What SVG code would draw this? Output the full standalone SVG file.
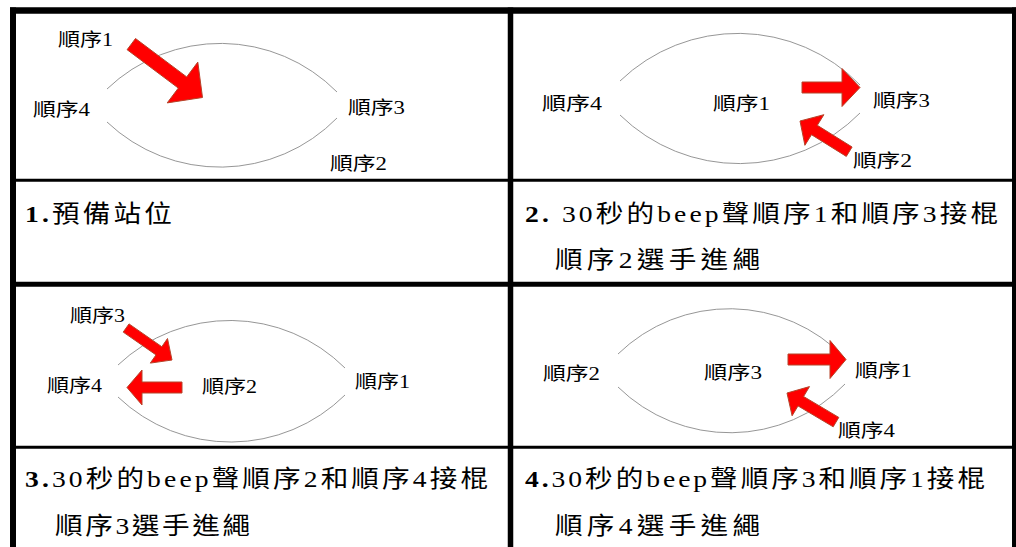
<svg xmlns="http://www.w3.org/2000/svg" width="1016" height="547" viewBox="0 0 1016 547">
<style>
.lbl{font-family:"Liberation Serif","Noto Sans CJK TC",serif;font-size:18px;fill:#000}
.cap{font-family:"Liberation Serif","Noto Sans CJK TC",serif;font-size:24px;fill:#000}
.b{font-weight:bold}
.arc{fill:none;stroke:#8a8a8a;stroke-width:0.9}
.arr{fill:#ff0000;stroke:#b5442a;stroke-width:1;stroke-linejoin:miter}
.grid{stroke:#000;fill:none}
</style>
<rect width="1016" height="547" fill="#fff"/>
<g id="grid">
<line class="grid" x1="10" y1="10.5" x2="1016" y2="10.5" stroke-width="6.5"/>
<line class="grid" x1="13" y1="7.5" x2="13" y2="547" stroke-width="6"/>
<line class="grid" x1="1015" y1="7.5" x2="1015" y2="547" stroke-width="6"/>
<line class="grid" x1="510.5" y1="7.5" x2="510.5" y2="547" stroke-width="5.5"/>
<line class="grid" x1="10" y1="180.3" x2="1016" y2="180.3" stroke-width="3"/>
<line class="grid" x1="10" y1="284.2" x2="1016" y2="284.2" stroke-width="5"/>
<line class="grid" x1="10" y1="447.2" x2="1016" y2="447.2" stroke-width="3"/>
</g>
<g id="panel1">
<path class="arc" d="M107,89 A164,164 0 0 1 337,92"/>
<path class="arc" d="M107,122 A164,164 0 0 0 337,118"/>
<text class="lbl" x="58" y="46" textLength="55" lengthAdjust="spacingAndGlyphs">順序1</text>
<text class="lbl" x="33" y="116" textLength="57" lengthAdjust="spacingAndGlyphs">順序4</text>
<text class="lbl" x="348" y="114" textLength="57" lengthAdjust="spacingAndGlyphs">順序3</text>
<text class="lbl" x="330" y="170" textLength="57" lengthAdjust="spacingAndGlyphs">順序2</text>
<text class="cap" transform="translate(25,222) scale(1.15,1)" textLength="127.8" lengthAdjust="spacing"><tspan class="b">1.</tspan>預備站位</text>
</g>
<g id="panel2">
<path class="arc" d="M620,81 A170,170 0 0 1 860,85"/>
<path class="arc" d="M620,115 A170,170 0 0 0 860,113"/>
<text class="lbl" x="542" y="110" textLength="60" lengthAdjust="spacingAndGlyphs">順序4</text>
<text class="lbl" x="713" y="110" textLength="57" lengthAdjust="spacingAndGlyphs">順序1</text>
<text class="lbl" x="873" y="107" textLength="57" lengthAdjust="spacingAndGlyphs">順序3</text>
<text class="lbl" x="853" y="167" textLength="59" lengthAdjust="spacingAndGlyphs">順序2</text>
<text class="cap" transform="translate(525,222) scale(1.15,1)" textLength="411.3" lengthAdjust="spacing"><tspan class="b">2.</tspan> 30秒的beep聲順序1和順序3接棍</text>
<text class="cap" transform="translate(555,268) scale(1.15,1)" textLength="178.3" lengthAdjust="spacing">順序2選手進繩</text>
</g>
<g id="panel3">
<path class="arc" d="M118,365 A163,163 0 0 1 345,368"/>
<path class="arc" d="M118,397 A163,163 0 0 0 345,395"/>
<text class="lbl" x="70" y="322" textLength="55" lengthAdjust="spacingAndGlyphs">順序3</text>
<text class="lbl" x="47" y="392" textLength="55" lengthAdjust="spacingAndGlyphs">順序4</text>
<text class="lbl" x="202" y="393" textLength="55" lengthAdjust="spacingAndGlyphs">順序2</text>
<text class="lbl" x="355" y="388" textLength="55" lengthAdjust="spacingAndGlyphs">順序1</text>
<text class="cap" transform="translate(25,487) scale(1.15,1)" textLength="402.6" lengthAdjust="spacing"><tspan class="b">3.</tspan>30秒的beep聲順序2和順序4接棍</text>
<text class="cap" transform="translate(55,534) scale(1.15,1)" textLength="169.6" lengthAdjust="spacing">順序3選手進繩</text>
</g>
<g id="panel4">
<path class="arc" d="M618,354 A160,160 0 0 1 845,358"/>
<path class="arc" d="M618,387 A160,160 0 0 0 845,384"/>
<text class="lbl" x="543" y="380" textLength="57" lengthAdjust="spacingAndGlyphs">順序2</text>
<text class="lbl" x="704" y="379" textLength="58" lengthAdjust="spacingAndGlyphs">順序3</text>
<text class="lbl" x="855" y="377" textLength="57" lengthAdjust="spacingAndGlyphs">順序1</text>
<text class="lbl" x="838" y="437" textLength="57" lengthAdjust="spacingAndGlyphs">順序4</text>
<text class="cap" transform="translate(525,487) scale(1.15,1)" textLength="400" lengthAdjust="spacing"><tspan class="b">4.</tspan>30秒的beep聲順序3和順序1接棍</text>
<text class="cap" transform="translate(555,534) scale(1.15,1)" textLength="178.3" lengthAdjust="spacing">順序4選手進繩</text>
</g>
<g id="connectors">
<polygon class="arr" points="135.5,38.5 186.7,76.9 197.8,62.1 202.5,97.5 167.2,102.9 178.3,88.1 127.1,49.7"/>
<polygon class="arr" points="802,82 842,82 842,68.5 860,87.5 842,106.5 842,93 802,93"/>
<polygon class="arr" points="800,121 823.9,114.7 817.3,125.3 852.1,147 846.3,156.4 811.5,134.7 804.9,145.3"/>
<polygon class="arr" points="129,323.9 161.8,346.7 167.5,338.5 172,360 150.3,363.1 156,354.9 123.2,332.1"/>
<polygon class="arr" points="182,382 142,382 142,370 127,387.5 142,405 142,393 182,393"/>
<polygon class="arr" points="788,354 830,354 830,340.5 846,359.5 830,378.5 830,365 788,365"/>
<polygon class="arr" points="787,393 809.5,386.6 803.6,396.5 838.8,417.4 833.2,426.8 798,405.9 792.1,415.8"/>
</g>
</svg>
